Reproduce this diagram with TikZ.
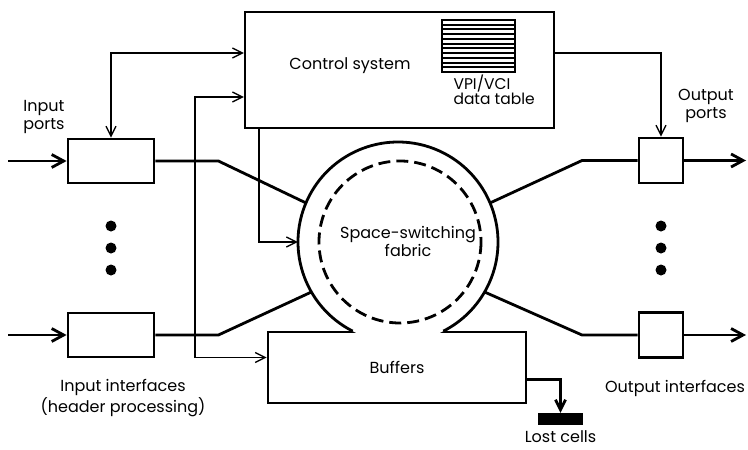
\documentclass[tikz,border=0pt]{standalone}
\usepackage{fontspec}
\setmainfont{Poppins}
\usetikzlibrary{positioning,arrows.meta}

\begin{document}
\begin{tikzpicture}[x=1pt,y=-1pt,font=\fontsize{16}{18}\selectfont,
  heavy/.style={line width=2.8pt},
  light/.style={line width=1.3pt},
  portbox/.style={draw,line width=2.8pt,inner sep=0pt},
  bigtip/.style={-{Straight Barb[length=12pt,width=13pt]}},
  smalltip/.style={-{Straight Barb[length=10pt,width=10pt]}},
  bothtips/.style={{Straight Barb[length=10pt,width=10pt]}-{Straight Barb[length=10pt,width=10pt]}},
  dot/.style={circle,fill,inner sep=0pt,minimum size=11pt}]
  \useasboundingbox (0,0) rectangle (748,450);

  % control part
  \node[draw,line width=2.2pt,minimum width=309pt,minimum height=116pt] (ctrl) at (399.5,70) {};
  \node (ctrltxt) at (350,66) {Control system};
  \node[draw,line width=1.8pt,minimum width=73pt,minimum height=52pt] (tbl) at (478.5,46) {};
  \foreach \k in {1,...,10}
    \draw[line width=2pt] (442,20+\k*4.727) -- (515,20+\k*4.727);
  \node[align=left,anchor=west,font=\fontsize{15.5}{14}\selectfont] (tbltxt) at (450,90) {VPI/VCI\\data table};

  % buffers and fabric
  \node[portbox,minimum width=258pt,minimum height=71pt] (buf) at (397,367.5) {Buffers};
  \node[circle,fill=white,minimum size=200pt] (fabric) at (398,242) {};
  \draw[heavy] (fabric.center) ++(117:100) arc[start angle=117,end angle=423,radius=100];
  \draw[heavy,dash pattern=on 12pt off 6pt] (400,242) circle[radius=81];
  \node[align=center] (fabtxt) at (408,241) {Space-switching\\fabric};

  % interfaces
  \node[portbox,minimum width=86pt,minimum height=44pt] (ina) at (111,161) {};
  \node[portbox,minimum width=86pt,minimum height=44pt] (inb) at (111,335) {};
  \node[portbox,minimum width=44pt,minimum height=45pt] (outa) at (661,160.5) {};
  \node[portbox,minimum width=44pt,minimum height=45pt] (outb) at (661,335) {};
  \foreach \y in {226,248,270} {
    \node[dot] (ldot\y) at (111,\y) {};
    \node[dot] (rdot\y) at (661,\y) {};
  }
  \node[fill,minimum width=45pt,minimum height=12pt,inner sep=0pt] (lost) at (560.5,419) {};

  \coordinate (ina-src) at (8,161);
  \coordinate (inb-src) at (8,335);
  \coordinate (outa-dst) at (746,160.5);
  \coordinate (outb-dst) at (746,335);

  % data paths
  \draw[heavy,bigtip] (ina-src) -- (ina);
  \draw[heavy,bigtip] (inb-src) -- (inb);
  \draw[heavy] (ina.east) -- ++(63,0) -- (fabric.157);
  \draw[heavy] (inb.east) -- ++(63,0) -- (fabric.210);
  \draw[heavy] (fabric.23) -- (582,160.5) -- (outa.west);
  \draw[heavy] (fabric.330) -- (582,335) -- (outb.west);
  \draw[heavy,bigtip] (outa) -- (outa-dst);
  \draw[heavy,bigtip] (outb) -- (outb-dst);

  % control paths
  \draw[light,bothtips] (ina.north) |- ([yshift=17pt]ctrl.west);
  \draw[light,bothtips] ([yshift=-27pt]ctrl.west) -- ++(-49,0) |- ([yshift=10pt]buf.west);
  \draw[light,smalltip] ([xshift=15pt]ctrl.south west) |- (fabric.west);
  \draw[light,smalltip] ([yshift=17pt]ctrl.east) -| (outa.north);
  \draw[heavy,smalltip] ([yshift=-12pt]buf.east) -| (lost.north);

  % labels
  \node[align=center] (inlbl) at (44,117) {Input\\ports};
  \node[align=center] (outlbl) at (706,106) {Output\\ports};
  \node[align=center] (inif) at (123,398) {Input interfaces\\(header processing)};
  \node (outif) at (675,388) {Output interfaces};
  \node[below=2pt of lost] (lostlbl) {Lost cells};
\end{tikzpicture}
\end{document}
